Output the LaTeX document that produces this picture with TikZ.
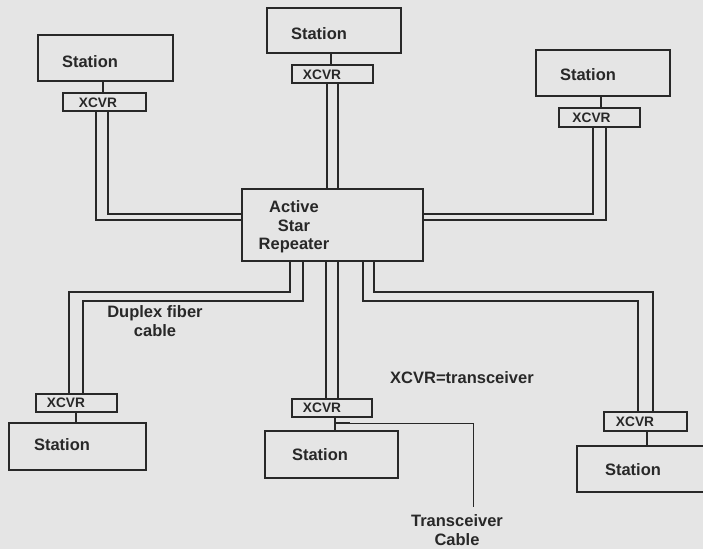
\documentclass[tikz,border=0pt]{standalone}
\usepackage{fontspec}
\setmainfont{Liberation Sans}
\definecolor{paper}{RGB}{229,229,229}
\definecolor{ink}{RGB}{40,40,40}
\begin{document}
\begin{tikzpicture}[x=1pt,y=-1pt]
\tikzset{
  unit/.style={draw=ink, line width=1.1pt, inner sep=0pt, fill=paper},
  lbl/.style={font=\bfseries\fontsize{16.5}{18.5}\selectfont, text=ink, inner sep=0pt, align=center},
  xlbl/.style={font=\bfseries\fontsize{13.7}{15}\selectfont, text=ink, inner sep=0pt},
  wire/.style={draw=ink, line width=1.1pt},
}
% page
\fill[paper] (0,0) rectangle (703,549);
\clip (0,0) rectangle (703,549);

% repeater hub
\node[unit, minimum width=181pt, minimum height=72pt] (star) at (332.5,225) {};
\node[lbl] (startxt) at (294,227) {Active\\Star\\Repeater};

% stations and transceivers
\node[unit, minimum width=135pt, minimum height=46pt] (stl) at (105.5,58) {};
\node[unit, minimum width=83pt, minimum height=18pt] (xtl) at (104.5,102) {};
\node[unit, minimum width=134pt, minimum height=45pt] (stc) at (334,30.5) {};
\node[unit, minimum width=81pt, minimum height=18pt] (xtc) at (332.5,74) {};
\node[unit, minimum width=134pt, minimum height=46pt] (str) at (603,73) {};
\node[unit, minimum width=81pt, minimum height=19pt] (xtr) at (599.5,117.5) {};
\node[unit, minimum width=81pt, minimum height=18pt] (xbl) at (76.5,403) {};
\node[unit, minimum width=137pt, minimum height=47pt] (sbl) at (77.5,446.5) {};
\node[unit, minimum width=80pt, minimum height=18pt] (xbc) at (332,408) {};
\node[unit, minimum width=133pt, minimum height=47pt] (sbc) at (331.5,454.5) {};
\node[unit, minimum width=83pt, minimum height=19pt] (xbr) at (645.5,421.5) {};
\node[unit, minimum width=130pt, minimum height=46pt] (sbr) at (642,469) {};

% box labels
\node[lbl] (tstl) at (90,62) {Station};
\node[lbl] (tstc) at (319,34) {Station};
\node[lbl] (tstr) at (588,75) {Station};
\node[lbl] (tsbl) at (62,445) {Station};
\node[lbl] (tsbc) at (320,455) {Station};
\node[lbl] (tsbr) at (633,470) {Station};
\node[xlbl] (txtl) at (98,103) {XCVR};
\node[xlbl] (txtc) at (322,75) {XCVR};
\node[xlbl] (txtr) at (591.5,118) {XCVR};
\node[xlbl] (txbl) at (66,403) {XCVR};
\node[xlbl] (txbc) at (322,408) {XCVR};
\node[xlbl] (txbr) at (635,421.5) {XCVR};

% station to transceiver links
\draw[wire] (stl.south -| 103,0) -- (xtl.north -| 103,0);
\draw[wire] (stc.south -| 331,0) -- (xtc.north -| 331,0);
\draw[wire] (str.south -| 601,0) -- (xtr.north -| 601,0);
\draw[wire] (xbl.south -| 76,0) -- (sbl.north -| 76,0);
\draw[wire] (xbc.south -| 335,0) -- (sbc.north -| 335,0);
\draw[wire] (xbr.south -| 647,0) -- (sbr.north -| 647,0);

% duplex fiber cables to the hub
\draw[wire] (xtl.south -| 96,0) |- (star.west |- 0,220);
\draw[wire] (xtl.south -| 108,0) |- (star.west |- 0,214);
\draw[wire] (xtc.south -| 327,0) -- (star.north -| 327,0);
\draw[wire] (xtc.south -| 338,0) -- (star.north -| 338,0);
\draw[wire] (xtr.south -| 593,0) |- (star.east |- 0,214);
\draw[wire] (xtr.south -| 606,0) |- (star.east |- 0,220);
\draw[wire] (star.south -| 290,0) |- (69,292) -- (xbl.north -| 69,0);
\draw[wire] (star.south -| 303,0) |- (83,301) -- (xbl.north -| 83,0);
\draw[wire] (star.south -| 326,0) -- (xbc.north -| 326,0);
\draw[wire] (star.south -| 338,0) -- (xbc.north -| 338,0);
\draw[wire] (star.south -| 363,0) |- (638,301) -- (xbr.north -| 638,0);
\draw[wire] (star.south -| 374,0) |- (653,292) -- (xbr.north -| 653,0);

% transceiver cable tapped off the lower middle link
\coordinate (tap) at (335,423);
\coordinate (tapend) at (350,423);
\coordinate (tcend) at (473,507);
\draw[ink, line width=2.6pt] (tap) -- (tapend);
\draw[wire, line width=0.9pt] (tapend) -| (tcend);

% annotations
\node[lbl] (dup) at (155,321) {Duplex fiber\\cable};
\node[lbl] (key) at (462,378) {XCVR=transceiver};
\node[lbl] (tcl) at (457,530) {Transceiver\\Cable};
\end{tikzpicture}
\end{document}
